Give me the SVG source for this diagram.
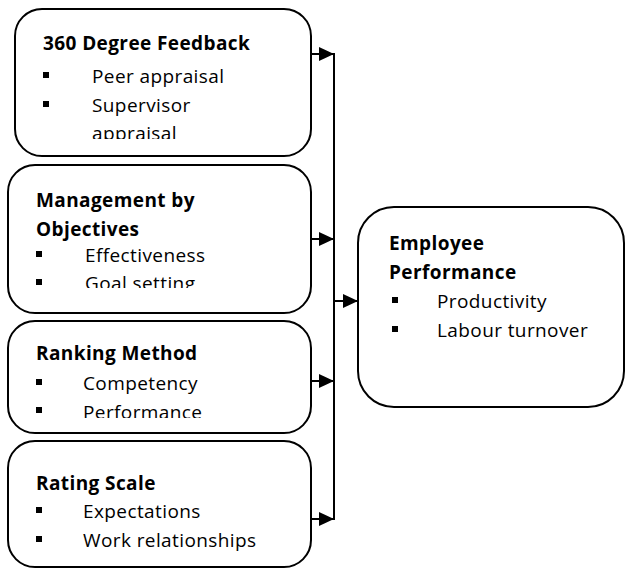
<svg xmlns="http://www.w3.org/2000/svg" width="625" height="569" viewBox="0 0 625 569">
<style>
.box{fill:#fff;stroke:#000;stroke-width:2}
.t{font-family:"Open Sans",Lato,sans-serif;font-size:19px;letter-spacing:0.4px;fill:#000}
.b{font-weight:bold}
.blt{fill:#000}
.con{stroke:#000;stroke-width:2;fill:none}
</style>
<defs>
<marker id="ah" viewBox="0 0 15 14" refX="15" refY="7" markerWidth="15" markerHeight="14" markerUnits="userSpaceOnUse" orient="auto">
<path d="M0,0 L15,7 L0,14 Z" fill="#000"/>
</marker>
<clipPath id="c1"><rect x="15" y="9" width="296" height="130"/></clipPath>
<clipPath id="c2"><rect x="8" y="165" width="303" height="123"/></clipPath>
<clipPath id="c3"><rect x="8" y="321" width="303" height="97"/></clipPath>
</defs>
<g id="connectors">
<line class="con" x1="311" y1="54" x2="334" y2="54" marker-end="url(#ah)"/>
<line class="con" x1="311" y1="239" x2="334" y2="239" marker-end="url(#ah)"/>
<line class="con" x1="311" y1="381" x2="334" y2="381" marker-end="url(#ah)"/>
<line class="con" x1="311" y1="519" x2="334" y2="519" marker-end="url(#ah)"/>
<line class="con" x1="334" y1="53" x2="334" y2="520"/>
<line class="con" x1="334" y1="301" x2="358" y2="301" marker-end="url(#ah)"/>
</g>
<g id="node-360">
<rect class="box" x="15" y="9" width="296" height="147" rx="27"/>
<g clip-path="url(#c1)">
<text class="t b" x="43" y="50">360 Degree Feedback</text>
<rect class="blt" x="43" y="72" width="6" height="6"/>
<text class="t" x="92" y="83">Peer appraisal</text>
<rect class="blt" x="43" y="101" width="6" height="6"/>
<text class="t" x="92" y="112">Supervisor</text>
<text class="t" x="92" y="140">appraisal</text>
</g>
</g>
<g id="node-mbo">
<rect class="box" x="8" y="165" width="303" height="148" rx="27"/>
<g clip-path="url(#c2)">
<text class="t b" x="36" y="207">Management by</text>
<text class="t b" x="36" y="236">Objectives</text>
<rect class="blt" x="36" y="251" width="6" height="6"/>
<text class="t" x="85" y="262">Effectiveness</text>
<rect class="blt" x="36" y="279" width="6" height="6"/>
<text class="t" x="85" y="290">Goal setting</text>
</g>
</g>
<g id="node-ranking">
<rect class="box" x="8" y="321" width="303" height="112" rx="27"/>
<g clip-path="url(#c3)">
<text class="t b" x="36" y="360">Ranking Method</text>
<rect class="blt" x="36" y="379" width="6" height="6"/>
<text class="t" x="83" y="390">Competency</text>
<rect class="blt" x="36" y="407" width="6" height="6"/>
<text class="t" x="83" y="419">Performance</text>
</g>
</g>
<g id="node-rating">
<rect class="box" x="8" y="441" width="303" height="126" rx="27"/>
<text class="t b" x="36" y="490">Rating Scale</text>
<rect class="blt" x="36" y="507" width="6" height="6"/>
<text class="t" x="83" y="518">Expectations</text>
<rect class="blt" x="36" y="536" width="6" height="6"/>
<text class="t" x="83" y="547">Work relationships</text>
</g>
<g id="node-employee">
<rect class="box" x="358" y="207" width="266" height="200" rx="36"/>
<text class="t b" x="389" y="250">Employee</text>
<text class="t b" x="389" y="279">Performance</text>
<rect class="blt" x="392" y="297" width="6" height="6"/>
<text class="t" x="437" y="308">Productivity</text>
<rect class="blt" x="392" y="326" width="6" height="6"/>
<text class="t" x="437" y="337">Labour turnover</text>
</g>
</svg>
